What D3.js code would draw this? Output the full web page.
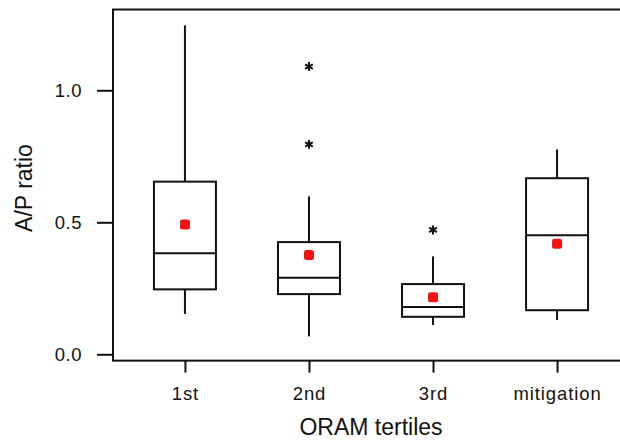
<!DOCTYPE html>
<html>
<head>
<meta charset="utf-8">
<script src="https://cdn.jsdelivr.net/npm/d3@7"></script>
<style>
  body { margin: 0; background: #fff; }
  svg { display: block; font-family: "Liberation Sans", Arial, sans-serif; }
</style>
</head>
<body>
<div id="chart"></div>
<script>
const categories = ["1st", "2nd", "3rd", "mitigation"];
const whiskerLow = [0.153, 0.068, 0.111, 0.130];
const q1 = [0.246, 0.228, 0.142, 0.167];
const medians = [0.383, 0.290, 0.179, 0.451];
const q3 = [0.654, 0.425, 0.266, 0.667];
const whiskerHigh = [1.246, 0.598, 0.371, 0.776];
const means = [0.492, 0.376, 0.216, 0.419];
const outliers = [[], [1.09, 0.795], [0.471], []];
const yTicks = [0.0, 0.5, 1.0];

const width = 620, height = 443;
const margin = { top: 9.5, left: 113 };
const plotW = 516;

const svg = d3.select("#chart").append("svg")
    .attr("width", width)
    .attr("height", height);

const x = d3.scalePoint().domain(categories).range([margin.left, margin.left + plotW]).padding(0.58);
const y = d3.scaleLinear().domain([0, 1]).range([354.3, 90.3]);
const yTop = y(1.306), yBottom = y(-0.024);

const boxes = categories.map((c, i) => ({
    cat: c, lo: whiskerLow[i], q1: q1[i], med: medians[i], q3: q3[i],
    hi: whiskerHigh[i], mean: means[i], out: outliers[i]
}));

// frame (right edge falls outside the picture)
svg.append("rect")
    .attr("x", margin.left).attr("y", yTop)
    .attr("width", plotW).attr("height", yBottom - yTop)
    .attr("fill", "none").attr("stroke", "#111").attr("stroke-width", 2);

// y axis
const yAxis = svg.append("g")
    .attr("transform", `translate(${margin.left},0)`)
    .call(d3.axisLeft(y).tickValues(yTicks).tickFormat(d3.format(".1f")).tickSize(16).tickPadding(15));
yAxis.select(".domain").remove();
yAxis.selectAll(".tick line").attr("stroke", "#111").attr("stroke-width", 2);
yAxis.selectAll(".tick text")
    .attr("font-size", 18.5).attr("fill", "#111").attr("font-family", "Liberation Sans, Arial, sans-serif")
    .attr("letter-spacing", 0.5);

// x axis
const xAxis = svg.append("g")
    .attr("transform", `translate(0,${yBottom})`)
    .call(d3.axisBottom(x).tickSize(12).tickPadding(14));
xAxis.select(".domain").remove();
xAxis.selectAll(".tick line").attr("stroke", "#111").attr("stroke-width", 2);
xAxis.selectAll(".tick text")
    .attr("font-size", 18.5).attr("fill", "#111").attr("font-family", "Liberation Sans, Arial, sans-serif")
    .attr("letter-spacing", 0.9);

const half = 31;
const g = svg.append("g").attr("stroke", "#111").attr("stroke-width", 2).attr("fill", "none");

const box = g.selectAll("g.box").data(boxes).join("g").attr("class", "box");

box.append("line")
    .attr("x1", d => x(d.cat)).attr("x2", d => x(d.cat))
    .attr("y1", d => y(d.q3)).attr("y2", d => y(d.hi));
box.append("line")
    .attr("x1", d => x(d.cat)).attr("x2", d => x(d.cat))
    .attr("y1", d => y(d.q1)).attr("y2", d => y(d.lo));
box.append("rect")
    .attr("x", d => x(d.cat) - half).attr("width", half * 2)
    .attr("y", d => y(d.q3)).attr("height", d => y(d.q1) - y(d.q3));
box.append("line")
    .attr("x1", d => x(d.cat) - half).attr("x2", d => x(d.cat) + half)
    .attr("y1", d => y(d.med)).attr("y2", d => y(d.med));

// means
svg.selectAll("rect.mean").data(boxes).join("rect")
    .attr("class", "mean")
    .attr("x", d => x(d.cat) - 5).attr("y", d => y(d.mean) - 5)
    .attr("width", 10).attr("height", 10).attr("rx", 2.5)
    .attr("fill", "#f41212");

// outliers
const star = d3.symbol().type(d3.symbolAsterisk).size(55);
svg.selectAll("path.out")
    .data(boxes.flatMap(d => d.out.map(v => ({ cat: d.cat, v }))))
    .join("path")
    .attr("class", "out")
    .attr("transform", d => `translate(${x(d.cat)},${y(d.v)})`)
    .attr("d", star)
    .attr("stroke", "#111").attr("stroke-width", 2).attr("fill", "none");

// axis titles
svg.append("text")
    .attr("x", 371).attr("y", 435)
    .attr("text-anchor", "middle").attr("font-size", 23).attr("fill", "#111")
    .text("ORAM tertiles");

svg.append("text")
    .attr("transform", "translate(31.5,188) rotate(-90)")
    .attr("text-anchor", "middle").attr("font-size", 23).attr("fill", "#111")
    .text("A/P ratio");
</script>
</body>
</html>
